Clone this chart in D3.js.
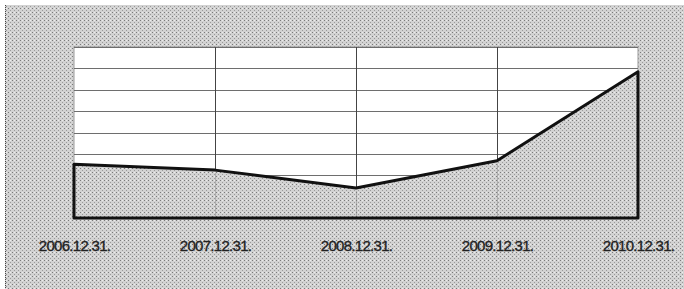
<!DOCTYPE html>
<html>
<head>
<meta charset="utf-8">
<script src="https://cdn.jsdelivr.net/npm/d3@7"></script>
<style>
  body { margin: 0; background: #fff; }
  svg { display: block; }
</style>
</head>
<body>
<div id="chart"></div>
<script>
// values (no y labels shown, grid step = 1)
const dates = ["2006.12.31.", "2007.12.31.", "2008.12.31.", "2009.12.31.", "2010.12.31."];
const values = [2.52, 2.24, 1.40, 2.68, 6.84];
const gridTicks = [1, 2, 3, 4, 5, 6, 7, 8];

let width = 684,
    height = 289,
    margin = ({ top: 47, right: 46, bottom: 71, left: 74 });

const svg = d3.select("#chart")
  .append("svg")
  .attr("width", width)
  .attr("height", height);

// dotted grey texture like the scanned original
const defs = svg.append("defs");
const pat = defs.append("pattern")
  .attr("id", "dots")
  .attr("width", 4)
  .attr("height", 4)
  .attr("patternUnits", "userSpaceOnUse");
pat.append("rect").attr("width", 4).attr("height", 4).attr("fill", "#d2d2d2");
pat.append("rect").attr("x", 0).attr("y", 0).attr("width", 1).attr("height", 1).attr("fill", "#7a7a7a");
pat.append("rect").attr("x", 2).attr("y", 2).attr("width", 1).attr("height", 1).attr("fill", "#9a9a9a");
pat.append("rect").attr("x", 2).attr("y", 0).attr("width", 1).attr("height", 1).attr("fill", "#ececec");

svg.append("rect")
  .attr("x", 5).attr("y", 5)
  .attr("width", width - 5).attr("height", height - 5)
  .attr("fill", "url(#dots)");

svg.append("line")
  .attr("x1", 5.5).attr("x2", 5.5)
  .attr("y1", 5).attr("y2", height)
  .attr("stroke", "#444")
  .attr("stroke-dasharray", "1,1");

let x = d3.scalePoint()
  .domain(dates)
  .range([margin.left, width - margin.right]);

let y = d3.scaleLinear()
  .domain([0, 8])
  .range([height - margin.bottom, margin.top]);

// plot area
svg.append("rect")
  .attr("x", margin.left)
  .attr("y", margin.top)
  .attr("width", width - margin.left - margin.right)
  .attr("height", height - margin.top - margin.bottom)
  .attr("fill", "#fff")
  .attr("stroke", "#999");

svg.append("g")
  .attr("stroke", "#6e6e6e")
  .selectAll("line")
  .data(gridTicks)
  .join("line")
  .attr("x1", margin.left)
  .attr("x2", width - margin.right)
  .attr("y1", d => Math.round(y(d)) + 0.5)
  .attr("y2", d => Math.round(y(d)) + 0.5);

svg.append("g")
  .attr("stroke", "#444")
  .selectAll("line")
  .data(dates.slice(1, -1))
  .join("line")
  .attr("x1", d => Math.round(x(d)) + 0.5)
  .attr("x2", d => Math.round(x(d)) + 0.5)
  .attr("y1", margin.top)
  .attr("y2", y(0));

const pts = dates.map((d, i) => [x(d), y(values[i])]);

const shape = [[x(dates[0]), y(0)], ...pts, [x(dates[dates.length - 1]), y(0)]];

svg.append("path")
  .attr("d", d3.line()(shape) + "Z")
  .attr("fill", "url(#dots)")
  .attr("stroke", "#111")
  .attr("stroke-width", 3)
  .attr("stroke-linejoin", "round");

// faint grid lines showing through the fill
svg.append("g")
  .attr("stroke", "#777")
  .attr("stroke-opacity", 0.4)
  .selectAll("line")
  .data(dates.slice(1, -1))
  .join("line")
  .attr("x1", d => Math.round(x(d)) + 0.5)
  .attr("x2", d => Math.round(x(d)) + 0.5)
  .attr("y1", (d, i) => y(values[i + 1]) + 3)
  .attr("y2", y(0) - 2);

svg.append("g")
  .attr("transform", `translate(0,${y(0)})`)
  .call(d3.axisBottom(x).tickSize(0).tickPadding(22))
  .call(g => g.select(".domain").remove())
  .selectAll("text")
  .attr("font-family", "Liberation Sans, Arial, sans-serif")
  .attr("font-size", 15)
  .attr("fill", "#222")
  .attr("stroke", "#222")
  .attr("stroke-width", 0.35)
  .attr("letter-spacing", -0.7);
</script>
</body>
</html>
